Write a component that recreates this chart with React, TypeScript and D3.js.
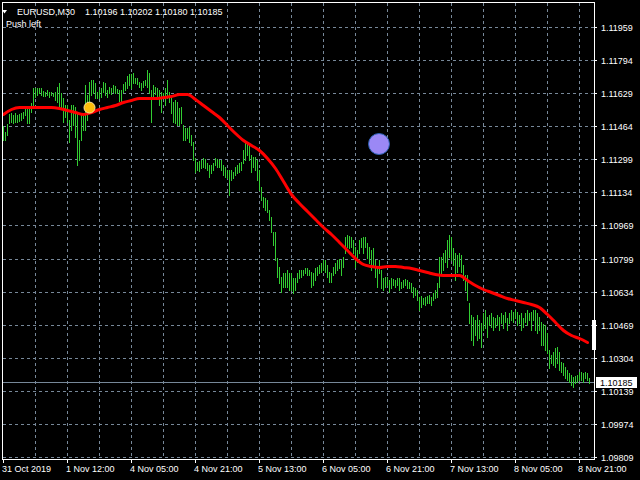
import React from 'react';
import * as d3 from 'd3';

// M30 bars: high / low per bar (oldest first)
const highs = [
  1.11464, 1.11434, 1.11474, 1.11524, 1.11529, 1.11519, 1.11529, 1.11519, 1.11524, 1.11529, 1.11534, 1.11554, 1.11554, 1.11549, 1.11579, 1.11654,
  1.11654, 1.11654, 1.11654, 1.11654, 1.11639, 1.11634, 1.11644, 1.11634, 1.11634, 1.11629, 1.11634, 1.11659, 1.11679, 1.11629, 1.11604, 1.11569,
  1.11569, 1.11494, 1.11569, 1.11569, 1.11559, 1.11534, 1.11394, 1.11519, 1.11529, 1.11669, 1.11619, 1.11684, 1.11694, 1.11694, 1.11679, 1.11634,
  1.11644, 1.11654, 1.11684, 1.11679, 1.11644, 1.11659, 1.11654, 1.11669, 1.11664, 1.11649, 1.11644, 1.11644, 1.11674, 1.11684, 1.11714, 1.11724,
  1.11724, 1.11729, 1.11704, 1.11704, 1.11684, 1.11679, 1.11689, 1.11694, 1.11744, 1.11729, 1.11644, 1.11669, 1.11659, 1.11654, 1.11644, 1.11634,
  1.11629, 1.11654, 1.11694, 1.11634, 1.11609, 1.11584, 1.11594, 1.11584, 1.11554, 1.11559, 1.11469, 1.11454, 1.11454, 1.11459, 1.11419, 1.11384,
  1.11304, 1.11284, 1.11289, 1.11294, 1.11304, 1.11299, 1.11279, 1.11269, 1.11269, 1.11279, 1.11304, 1.11299, 1.11294, 1.11294, 1.11269, 1.11259,
  1.11244, 1.11244, 1.11244, 1.11234, 1.11259, 1.11269, 1.11279, 1.11284, 1.11344, 1.11379, 1.11379, 1.11369, 1.11319, 1.11309, 1.11309, 1.11294,
  1.11244, 1.11159, 1.11109, 1.11104, 1.11094, 1.11044, 1.11009, 1.10934, 1.10934, 1.10804, 1.10759, 1.10709, 1.10729, 1.10729, 1.10744, 1.10729,
  1.10729, 1.10704, 1.10704, 1.10729, 1.10744, 1.10744, 1.10744, 1.10754, 1.10754, 1.10744, 1.10734, 1.10729, 1.10754, 1.10759, 1.10769, 1.10779,
  1.10794, 1.10794, 1.10769, 1.10734, 1.10729, 1.10759, 1.10779, 1.10794, 1.10799, 1.10794, 1.10809, 1.10909, 1.10919, 1.10914, 1.10909, 1.10894,
  1.10859, 1.10844, 1.10894, 1.10904, 1.10909, 1.10909, 1.10879, 1.10859, 1.10844, 1.10854, 1.10794, 1.10759, 1.10794, 1.10744, 1.10704, 1.10709,
  1.10709, 1.10694, 1.10704, 1.10699, 1.10694, 1.10704, 1.10704, 1.10684, 1.10694, 1.10699, 1.10694, 1.10684, 1.10679, 1.10659, 1.10654, 1.10644,
  1.10609, 1.10614, 1.10604, 1.10609, 1.10614, 1.10619, 1.10609, 1.10629, 1.10644, 1.10679, 1.10809, 1.10809, 1.10829, 1.10844, 1.10894, 1.10919,
  1.10909, 1.10854, 1.10829, 1.10819, 1.10829, 1.10819, 1.10769, 1.10719, 1.10719, 1.10579, 1.10519, 1.10509, 1.10494, 1.10519, 1.10494, 1.10479,
  1.10529, 1.10544, 1.10509, 1.10519, 1.10529, 1.10509, 1.10504, 1.10519, 1.10509, 1.10529, 1.10519, 1.10534, 1.10504, 1.10529, 1.10544, 1.10534,
  1.10544, 1.10534, 1.10519, 1.10529, 1.10504, 1.10529, 1.10544, 1.10529, 1.10534, 1.10544, 1.10544, 1.10529, 1.10509, 1.10484, 1.10474, 1.10469,
  1.10429, 1.10344, 1.10319, 1.10334, 1.10354, 1.10359, 1.10334, 1.10284, 1.10279, 1.10259, 1.10244, 1.10229, 1.10219, 1.10209, 1.10214, 1.10219,
  1.10234, 1.10234, 1.10229, 1.10234, 1.10229, 1.10202,
];

const lows = [
  1.11394, 1.11394, 1.11419, 1.11479, 1.11484, 1.11479, 1.11484, 1.11484, 1.11489, 1.11494, 1.11504, 1.11519, 1.11479, 1.11479, 1.11534, 1.11559,
  1.11609, 1.11619, 1.11629, 1.11619, 1.11614, 1.11614, 1.11619, 1.11609, 1.11619, 1.11614, 1.11594, 1.11584, 1.11559, 1.11559, 1.11484, 1.11509,
  1.11484, 1.11384, 1.11444, 1.11469, 1.11409, 1.11269, 1.11294, 1.11394, 1.11444, 1.11444, 1.11494, 1.11559, 1.11619, 1.11629, 1.11604, 1.11604,
  1.11604, 1.11609, 1.11634, 1.11619, 1.11609, 1.11629, 1.11624, 1.11634, 1.11629, 1.11629, 1.11589, 1.11589, 1.11634, 1.11644, 1.11654, 1.11669,
  1.11654, 1.11679, 1.11679, 1.11674, 1.11659, 1.11644, 1.11659, 1.11669, 1.11659, 1.11629, 1.11484, 1.11609, 1.11624, 1.11609, 1.11569, 1.11534,
  1.11604, 1.11569, 1.11604, 1.11584, 1.11529, 1.11484, 1.11479, 1.11469, 1.11469, 1.11479, 1.11394, 1.11394, 1.11404, 1.11384, 1.11369, 1.11294,
  1.11234, 1.11244, 1.11239, 1.11254, 1.11259, 1.11254, 1.11244, 1.11209, 1.11229, 1.11244, 1.11269, 1.11259, 1.11259, 1.11244, 1.11219, 1.11209,
  1.11204, 1.11119, 1.11194, 1.11204, 1.11219, 1.11229, 1.11234, 1.11244, 1.11279, 1.11294, 1.11319, 1.11294, 1.11234, 1.11259, 1.11244, 1.11194,
  1.11144, 1.11094, 1.11059, 1.11044, 1.11034, 1.10994, 1.10934, 1.10869, 1.10794, 1.10709, 1.10679, 1.10634, 1.10659, 1.10659, 1.10659, 1.10644,
  1.10644, 1.10629, 1.10644, 1.10684, 1.10704, 1.10709, 1.10719, 1.10729, 1.10719, 1.10719, 1.10659, 1.10669, 1.10694, 1.10719, 1.10729, 1.10734,
  1.10744, 1.10734, 1.10709, 1.10684, 1.10684, 1.10719, 1.10729, 1.10744, 1.10754, 1.10719, 1.10759, 1.10829, 1.10859, 1.10854, 1.10859, 1.10829,
  1.10759, 1.10784, 1.10829, 1.10859, 1.10829, 1.10859, 1.10804, 1.10779, 1.10744, 1.10759, 1.10709, 1.10659, 1.10729, 1.10654, 1.10644, 1.10659,
  1.10669, 1.10634, 1.10654, 1.10669, 1.10659, 1.10669, 1.10644, 1.10654, 1.10659, 1.10669, 1.10654, 1.10654, 1.10634, 1.10609, 1.10619, 1.10594,
  1.10544, 1.10559, 1.10574, 1.10569, 1.10579, 1.10579, 1.10569, 1.10594, 1.10604, 1.10609, 1.10659, 1.10719, 1.10744, 1.10784, 1.10759, 1.10809,
  1.10794, 1.10769, 1.10694, 1.10734, 1.10764, 1.10734, 1.10694, 1.10644, 1.10594, 1.10479, 1.10394, 1.10369, 1.10419, 1.10394, 1.10404, 1.10359,
  1.10444, 1.10454, 1.10409, 1.10469, 1.10459, 1.10444, 1.10459, 1.10469, 1.10444, 1.10479, 1.10454, 1.10484, 1.10444, 1.10479, 1.10494, 1.10484,
  1.10504, 1.10469, 1.10479, 1.10444, 1.10459, 1.10484, 1.10469, 1.10494, 1.10444, 1.10494, 1.10444, 1.10429, 1.10444, 1.10369, 1.10369, 1.10344,
  1.10329, 1.10254, 1.10279, 1.10269, 1.10259, 1.10279, 1.10244, 1.10234, 1.10219, 1.10204, 1.10194, 1.10184, 1.10169, 1.10159, 1.10179, 1.10184,
  1.10194, 1.10194, 1.10184, 1.10204, 1.10194, 1.10180,
];

// moving average, sampled every 4th bar
const MA_STEP = 4;
const maValues = [
  1.11524, 1.11549, 1.11559, 1.11559, 1.11559, 1.11559, 1.11559, 1.11554, 1.11544, 1.11534,
  1.11524, 1.11534, 1.11549, 1.11559, 1.11569, 1.11584, 1.11594, 1.11604, 1.11604, 1.11604,
  1.11609, 1.11614, 1.11624, 1.11624, 1.11599, 1.11569, 1.11539, 1.11509, 1.11469, 1.11429,
  1.11394, 1.11369, 1.11344, 1.11304, 1.11254, 1.11189, 1.11124, 1.11079, 1.11039, 1.10999,
  1.10959, 1.10924, 1.10884, 1.10844, 1.10804, 1.10774, 1.10764, 1.10759, 1.10764, 1.10764,
  1.10759, 1.10754, 1.10744, 1.10734, 1.10724, 1.10719, 1.10719, 1.10719, 1.10694, 1.10669,
  1.10649, 1.10634, 1.10619, 1.10604, 1.10594, 1.10584, 1.10574, 1.10559, 1.10524, 1.10484,
  1.10444, 1.10419, 1.10404, 1.10384,
];

const timeLabels = [
  '31 Oct 2019', '1 Nov 12:00', '4 Nov 05:00', '4 Nov 21:00', '5 Nov 13:00',
  '6 Nov 05:00', '6 Nov 21:00', '7 Nov 13:00', '8 Nov 05:00', '8 Nov 21:00',
];
const TIME_LABEL_STEP = 32; // bars between time labels
const GRID_STEP = 16; // bars between vertical grid lines

const priceTicks = [
  1.11959, 1.11794, 1.11629, 1.11464, 1.11299, 1.11134, 1.10969,
  1.10799, 1.10634, 1.10469, 1.10304, 1.10139, 1.09974, 1.09809,
];

const symbolTitle = 'EURUSD,M30';
const ohlcTitle = ['1.10196', '1.10202', '1.10180', '1.10185'];
const subTitle = 'Push left';
const lastPrice = 1.10185;

// chart objects (bar index, price)
const orangeMarker = { bar: 43.25, price: 1.11556 };
const purpleMarker = { bar: 188, price: 1.11374 };
const rightBar = { top: 1.10494, bottom: 1.10344 };

const FONT = "'Liberation Sans', Arial, Helvetica, sans-serif";
const GRID = '#778899';
const BAR = '#32cd32';

export default function App() {
  const W = 640, H = 480;
  const L = 2, R = 594, T = 2, B = 459;
  const x = d3.scaleLinear().domain([0, highs.length - 1]).range([3, 589]);
  const y = d3.scaleLinear().domain([1.12094, 1.09794]).range([0, 460]);
  const py = (p: number) => Math.round(y(p));

  const maLine = d3
    .line<number>()
    .x((_, i) => x(i * MA_STEP) + 0.5)
    .y((d) => y(d) + 0.5)
    .curve(d3.curveMonotoneX);

  const vGrid = d3.range(GRID_STEP, highs.length, GRID_STEP);
  const lastY = py(lastPrice);

  const headerX = [85, 120, 155, 190];

  return (
    <svg
      width={W}
      height={H}
      style={{ position: 'absolute', left: 0, top: 0, display: 'block', background: '#000' }}
      fontFamily={FONT}
    >
      <rect x={0} y={0} width={W} height={H} fill="#000" />
      <defs>
        <clipPath id="plot">
          <rect x={L + 1} y={T + 1} width={R - L - 1} height={B - T - 1} />
        </clipPath>
      </defs>

      {/* grid */}
      <g stroke={GRID} strokeWidth={1} strokeDasharray="3,3" shapeRendering="crispEdges">
        {priceTicks.map((p) => (
          <line key={'h' + p} x1={L + 1} x2={R} y1={py(p) + 0.5} y2={py(p) + 0.5} />
        ))}
        {vGrid.map((i) => (
          <line key={'v' + i} x1={Math.round(x(i)) + 0.5} x2={Math.round(x(i)) + 0.5} y1={T + 1} y2={B} />
        ))}
      </g>

      <g clipPath="url(#plot)">
        {/* current price line */}
        <line x1={L} x2={R} y1={lastY + 0.5} y2={lastY + 0.5} stroke={GRID} strokeWidth={1} shapeRendering="crispEdges" />

        {/* bars */}
        <g fill={BAR} shapeRendering="crispEdges">
          {highs.map((h, i) => {
            const y1 = py(h);
            const y2 = py(lows[i]);
            return <rect key={i} x={Math.round(x(i))} y={y1} width={1} height={y2 - y1 + 1} />;
          })}
        </g>

        {/* moving average */}
        <path d={maLine(maValues) || ''} fill="none" stroke="#ff0000" strokeWidth={3} strokeLinejoin="round" strokeLinecap="round" />

        {/* markers */}
        <circle cx={x(orangeMarker.bar)} cy={y(orangeMarker.price)} r={5.5} fill="#ffbe0a" stroke="#ffe3a0" strokeWidth={1} />
        <circle cx={x(purpleMarker.bar)} cy={y(purpleMarker.price)} r={10.5} fill="#9b88f5" stroke="#2a5fb0" strokeWidth={1} />
      </g>

      {/* frame */}
      <rect x={L + 0.5} y={T + 0.5} width={R - L} height={B - T} fill="none" stroke="#fff" strokeWidth={1} shapeRendering="crispEdges" />
      <rect x={R - 2} y={py(rightBar.top)} width={4} height={py(rightBar.bottom) - py(rightBar.top)} fill="#fff" />

      {/* price axis */}
      <g fill="#fff" fontSize={9}>
        {priceTicks.map((p) => (
          <g key={'pt' + p}>
            <line x1={R} x2={R + 3} y1={py(p) + 0.5} y2={py(p) + 0.5} stroke="#fff" shapeRendering="crispEdges" />
            <text x={601} y={py(p) + 4}>{p.toFixed(5)}</text>
          </g>
        ))}
      </g>
      <rect x={596} y={lastY - 5} width={41} height={11} fill="#fff" />
      <text x={600} y={lastY + 4} fontSize={9} fill="#000">{lastPrice.toFixed(5)}</text>

      {/* time axis */}
      <g fill="#fff" fontSize={9}>
        {timeLabels.map((t, k) => {
          const xi = Math.round(x(k * TIME_LABEL_STEP));
          return (
            <g key={t}>
              <line x1={xi + 0.5} x2={xi + 0.5} y1={B} y2={B + 4} stroke="#fff" shapeRendering="crispEdges" />
              <text x={xi - 1} y={472}>{t}</text>
            </g>
          );
        })}
      </g>

      {/* header */}
      <path d="M2,10 L7,10 L4.5,13.5 Z" fill="#fff" />
      <g fill="#fff" fontSize={9}>
        <text x={17} y={15}>{symbolTitle}</text>
        {ohlcTitle.map((v, i) => (
          <text key={i} x={headerX[i]} y={15}>{v}</text>
        ))}
        <text x={6} y={27}>{subTitle}</text>
      </g>
    </svg>
  );
}
